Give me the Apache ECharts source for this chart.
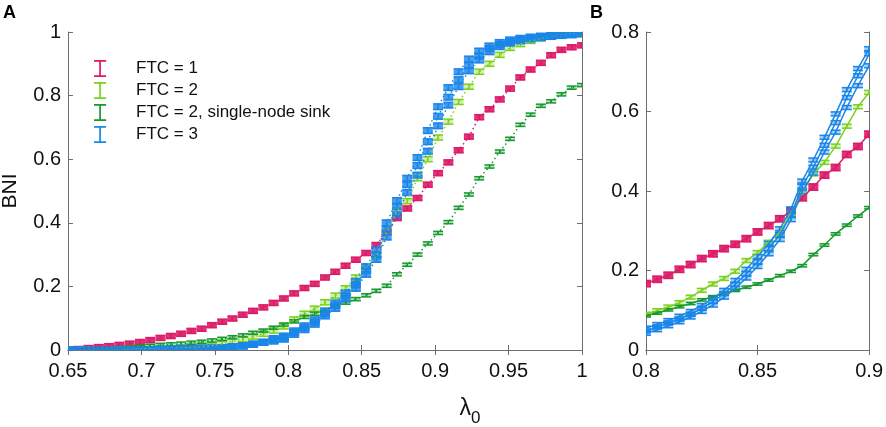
<!DOCTYPE html>
<html>
<head>
<meta charset="utf-8">
<script src="https://cdn.jsdelivr.net/npm/echarts@6/dist/echarts.min.js"></script>
<style>
  html, body { margin: 0; padding: 0; background: #fff; }
  #chart { width: 886px; height: 427px; }
</style>
</head>
<body>
<div id="chart"></div>
<script>
// panel A: lambda_0 grid and BNI per network class
const lambdaA = [0.650, 0.657, 0.664, 0.671, 0.678, 0.685, 0.692, 0.699, 0.706, 0.713,
  0.720, 0.727, 0.734, 0.741, 0.748, 0.755, 0.762, 0.769, 0.776, 0.783,
  0.790, 0.797, 0.804, 0.811, 0.818, 0.825, 0.832, 0.839, 0.846, 0.853,
  0.860, 0.867, 0.874, 0.881, 0.888, 0.895, 0.902, 0.909, 0.916, 0.923,
  0.930, 0.937, 0.944, 0.951, 0.958, 0.965, 0.972, 0.979, 0.986, 0.993, 1.000];

const ftc1A = [0.000, 0.003, 0.006, 0.009, 0.012, 0.016, 0.020, 0.025, 0.031, 0.038,
  0.044, 0.051, 0.060, 0.067, 0.078, 0.089, 0.099, 0.111, 0.123, 0.134,
  0.148, 0.162, 0.178, 0.195, 0.208, 0.228, 0.246, 0.265, 0.284, 0.305,
  0.330, 0.370, 0.415, 0.445, 0.478, 0.520, 0.556, 0.590, 0.628, 0.671,
  0.732, 0.757, 0.788, 0.822, 0.857, 0.882, 0.903, 0.927, 0.944, 0.952, 0.958];

const ftc2A = [0.000, 0.000, 0.001, 0.001, 0.001, 0.002, 0.002, 0.003, 0.003, 0.004,
  0.005, 0.006, 0.008, 0.010, 0.014, 0.019, 0.027, 0.034, 0.042, 0.051,
  0.061, 0.074, 0.096, 0.114, 0.130, 0.150, 0.171, 0.194, 0.228, 0.262,
  0.295, 0.370, 0.438, 0.468, 0.540, 0.600, 0.668, 0.718, 0.780, 0.828,
  0.875, 0.900, 0.928, 0.950, 0.962, 0.972, 0.980, 0.986, 0.990, 0.993, 0.995];

const sinkA = [0.000, 0.001, 0.002, 0.003, 0.005, 0.006, 0.008, 0.010, 0.013, 0.016,
  0.018, 0.020, 0.023, 0.026, 0.030, 0.035, 0.040, 0.046, 0.054, 0.061,
  0.070, 0.080, 0.090, 0.104, 0.114, 0.126, 0.138, 0.149, 0.160, 0.172,
  0.186, 0.202, 0.238, 0.268, 0.300, 0.335, 0.368, 0.402, 0.447, 0.489,
  0.540, 0.577, 0.624, 0.664, 0.708, 0.740, 0.768, 0.782, 0.804, 0.825, 0.833];

const ftc3A1 = [0.000, 0.000, 0.000, 0.000, 0.000, 0.000, 0.001, 0.001, 0.001, 0.002,
  0.002, 0.003, 0.004, 0.005, 0.006, 0.007, 0.010, 0.013, 0.018, 0.024,
  0.036, 0.044, 0.060, 0.076, 0.095, 0.122, 0.148, 0.180, 0.216, 0.262,
  0.315, 0.400, 0.470, 0.540, 0.605, 0.690, 0.765, 0.825, 0.875, 0.915,
  0.940, 0.956, 0.967, 0.975, 0.980, 0.984, 0.987, 0.990, 0.992, 0.994, 0.996];

const ftc3A2 = [0.000, 0.000, 0.000, 0.000, 0.000, 0.000, 0.001, 0.001, 0.001, 0.002,
  0.002, 0.003, 0.004, 0.005, 0.006, 0.007, 0.010, 0.013, 0.018, 0.024,
  0.032, 0.039, 0.055, 0.070, 0.088, 0.115, 0.140, 0.170, 0.205, 0.250,
  0.300, 0.380, 0.450, 0.520, 0.580, 0.655, 0.735, 0.795, 0.850, 0.895,
  0.925, 0.948, 0.960, 0.970, 0.976, 0.981, 0.985, 0.988, 0.991, 0.993, 0.995];

const ftc3A3 = [0.000, 0.000, 0.000, 0.000, 0.000, 0.000, 0.001, 0.001, 0.001, 0.002,
  0.002, 0.003, 0.004, 0.005, 0.006, 0.007, 0.010, 0.013, 0.018, 0.024,
  0.028, 0.034, 0.049, 0.064, 0.081, 0.107, 0.131, 0.160, 0.194, 0.238,
  0.285, 0.355, 0.425, 0.495, 0.550, 0.625, 0.705, 0.770, 0.828, 0.878,
  0.912, 0.938, 0.954, 0.965, 0.972, 0.978, 0.982, 0.986, 0.989, 0.991, 0.994];

// panel B: zoom 0.8 - 0.9
const lambdaB = [0.800, 0.805, 0.810, 0.815, 0.820, 0.825, 0.830, 0.835, 0.840, 0.845,
  0.850, 0.855, 0.860, 0.865, 0.870, 0.875, 0.880, 0.885, 0.890, 0.895, 0.900];

const ftc1B = [0.167, 0.178, 0.188, 0.203, 0.215, 0.230, 0.242, 0.255, 0.266, 0.280,
  0.297, 0.313, 0.330, 0.350, 0.383, 0.410, 0.440, 0.459, 0.492, 0.512, 0.543];
const ftc2B = [0.090, 0.099, 0.108, 0.119, 0.133, 0.150, 0.166, 0.180, 0.198, 0.225,
  0.245, 0.271, 0.295, 0.345, 0.396, 0.443, 0.472, 0.513, 0.563, 0.612, 0.648];
const sinkB = [0.086, 0.093, 0.101, 0.109, 0.117, 0.126, 0.134, 0.142, 0.150, 0.158,
  0.166, 0.176, 0.187, 0.198, 0.212, 0.240, 0.264, 0.292, 0.314, 0.337, 0.358];
const ftc3B1 = [0.055, 0.064, 0.074, 0.085, 0.097, 0.112, 0.130, 0.150, 0.175, 0.203,
  0.235, 0.268, 0.305, 0.355, 0.425, 0.478, 0.535, 0.594, 0.655, 0.708, 0.758];
const ftc3B2 = [0.048, 0.058, 0.068, 0.078, 0.090, 0.105, 0.122, 0.142, 0.165, 0.192,
  0.222, 0.255, 0.290, 0.340, 0.412, 0.460, 0.515, 0.572, 0.635, 0.690, 0.745];
const ftc3B3 = [0.042, 0.051, 0.061, 0.071, 0.083, 0.097, 0.113, 0.133, 0.155, 0.181,
  0.210, 0.242, 0.278, 0.328, 0.398, 0.445, 0.498, 0.548, 0.610, 0.665, 0.715];

// error bar half-heights (BNI units)
const errA = { ftc1: 0.008, ftc2: 0.008, sink: 0.005, ftc3: 0.009 };
const errB = { ftc1: 0.008, ftc2: 0.005, sink: 0.003, ftc3: 0.005 };

const names = ["FTC = 1", "FTC = 2", "FTC = 2, single-node sink", "FTC = 3"];
const colors = ["#dc1b68", "#7bd11f", "#17992f", "#1a86e8"];

const font = "Liberation Sans, Arial, Helvetica, sans-serif";

function errorBars(name, xs, ys, err, color, axis, fill) {
  return {
    name, type: "custom", xAxisIndex: axis, yAxisIndex: axis, clip: true, silent: true,
    itemStyle: { color },
    data: xs.map((x, i) => [x, ys[i] - err, ys[i] + err]),
    encode: { x: 0, y: [1, 2] },
    renderItem(params, api) {
      const lo = api.coord([api.value(0), api.value(1)]);
      const hi = api.coord([api.value(0), api.value(2)]);
      const hw = 5;
      const x = lo[0];
      return {
        type: "group",
        children: [
          { type: "rect", shape: { x: x - hw, y: hi[1], width: 2 * hw, height: lo[1] - hi[1] },
            style: { fill: color, opacity: fill } },
          { type: "line", shape: { x1: x - hw, y1: hi[1], x2: x + hw, y2: hi[1] },
            style: { stroke: color, lineWidth: 1.5 } },
          { type: "line", shape: { x1: x - hw, y1: lo[1], x2: x + hw, y2: lo[1] },
            style: { stroke: color, lineWidth: 1.5 } },
          { type: "line", shape: { x1: x, y1: hi[1], x2: x, y2: lo[1] },
            style: { stroke: color, lineWidth: 1.5 } },
        ],
      };
    },
  };
}

function lineSeries(name, xs, ys, color, axis, dotted) {
  return {
    name, type: "line", xAxisIndex: axis, yAxisIndex: axis, silent: true,
    data: xs.map((x, i) => [x, ys[i]]),
    symbol: "none",
    itemStyle: { color },
    lineStyle: { color, width: 1.5, type: dotted ? [1.5, 3] : "solid" },
  };
}

function panelAxes(gridIndex, xmin, xmax, ymax) {
  const line = { show: true, lineStyle: { color: "#6e6e6e", width: 1 } };
  const tick = { show: true, inside: true, length: 5, lineStyle: { color: "#6e6e6e" } };
  const label = { color: "#111", fontSize: 20, fontFamily: font };
  return {
    x: [
      { type: "value", gridIndex, min: xmin, max: xmax, interval: 0.05, position: "bottom",
        axisLine: line, axisTick: tick, splitLine: { show: false },
        axisLabel: Object.assign({ margin: 11 }, label) },
      { type: "value", gridIndex, min: xmin, max: xmax, interval: 0.05, position: "top",
        axisLine: line, axisTick: tick, splitLine: { show: false }, axisLabel: { show: false } },
    ],
    y: [
      { type: "value", gridIndex, min: 0, max: ymax, interval: 0.2, position: "left",
        axisLine: line, axisTick: tick, splitLine: { show: false },
        axisLabel: Object.assign({ margin: 7 }, label) },
      { type: "value", gridIndex, min: 0, max: ymax, interval: 0.2, position: "right",
        axisLine: line, axisTick: tick, splitLine: { show: false }, axisLabel: { show: false } },
    ],
  };
}

const axA = panelAxes(0, 0.65, 1, 1);
const axB = panelAxes(1, 0.8, 0.9, 0.8);

const seriesA = [
  [names[0], ftc1A, errA.ftc1, colors[0], 0.9],
  [names[1], ftc2A, errA.ftc2, colors[1], 0.35],
  [names[2], sinkA, errA.sink, colors[2], 0.3],
  [names[3], ftc3A1, errA.ftc3, colors[3], 0.8],
  [names[3], ftc3A2, errA.ftc3, colors[3], 0.8],
  [names[3], ftc3A3, errA.ftc3, colors[3], 0.8],
];
const seriesB = [
  [names[0], ftc1B, errB.ftc1, colors[0], 0.9],
  [names[1], ftc2B, errB.ftc2, colors[1], 0.3],
  [names[2], sinkB, errB.sink, colors[2], 0.2],
  [names[3], ftc3B1, errB.ftc3, colors[3], 0.4],
  [names[3], ftc3B2, errB.ftc3, colors[3], 0.4],
  [names[3], ftc3B3, errB.ftc3, colors[3], 0.4],
];

const series = [];
seriesA.forEach((s) => series.push(errorBars(s[0], lambdaA, s[1], s[2], s[3], 0, s[4])));
seriesB.forEach((s) => series.push(errorBars(s[0], lambdaB, s[1], s[2], s[3], 2, s[4])));
seriesA.forEach((s) => series.push(lineSeries(s[0], lambdaA, s[1], s[3], 0, true)));
seriesB.forEach((s) => series.push(lineSeries(s[0], lambdaB, s[1], s[3], 2, false)));

const chart = echarts.init(document.getElementById("chart"), null, { renderer: "canvas" });
chart.setOption({
  animation: false,
  backgroundColor: "#fff",
  grid: [
    { left: 68, top: 32, width: 514, height: 318 },
    { left: 646, top: 32, width: 224, height: 318 },
  ],
  xAxis: [axA.x[0], axA.x[1], axB.x[0], axB.x[1]],
  yAxis: [axA.y[0], axA.y[1], axB.y[0], axB.y[1]],
  legend: {
    data: names,
    orient: "vertical",
    left: 89, top: 55,
    itemWidth: 62, itemHeight: 17, itemGap: 5,
    icon: "path://M0,0H10V1.4H5.7V12.6H10V14H0V12.6H4.3V1.4H0Z",
    symbolKeepAspect: true,
    selectedMode: false,
    textStyle: { color: "#111", fontSize: 17, fontFamily: font },
  },
  graphic: [
    { type: "text", left: 3, top: 4,
      style: { text: "A", fontSize: 18, fontWeight: "bold", fontFamily: font, fill: "#000" } },
    { type: "text", left: 590, top: 4,
      style: { text: "B", fontSize: 18, fontWeight: "bold", fontFamily: font, fill: "#000" } },
    { type: "text", x: 10, y: 191, rotation: Math.PI / 2,
      style: { text: "BNI", fontSize: 21, fontFamily: font, fill: "#111",
        align: "center", verticalAlign: "middle" } },
    { type: "text", x: 470, y: 409,
      style: { text: "{l|λ}{s|0}", fill: "#111", align: "center", verticalAlign: "middle",
        rich: {
          l: { fontSize: 23, fontFamily: font },
          s: { fontSize: 17, fontFamily: font, padding: [18, 0, 0, 0] },
        } } },
  ],
  series,
});
</script>
</body>
</html>
